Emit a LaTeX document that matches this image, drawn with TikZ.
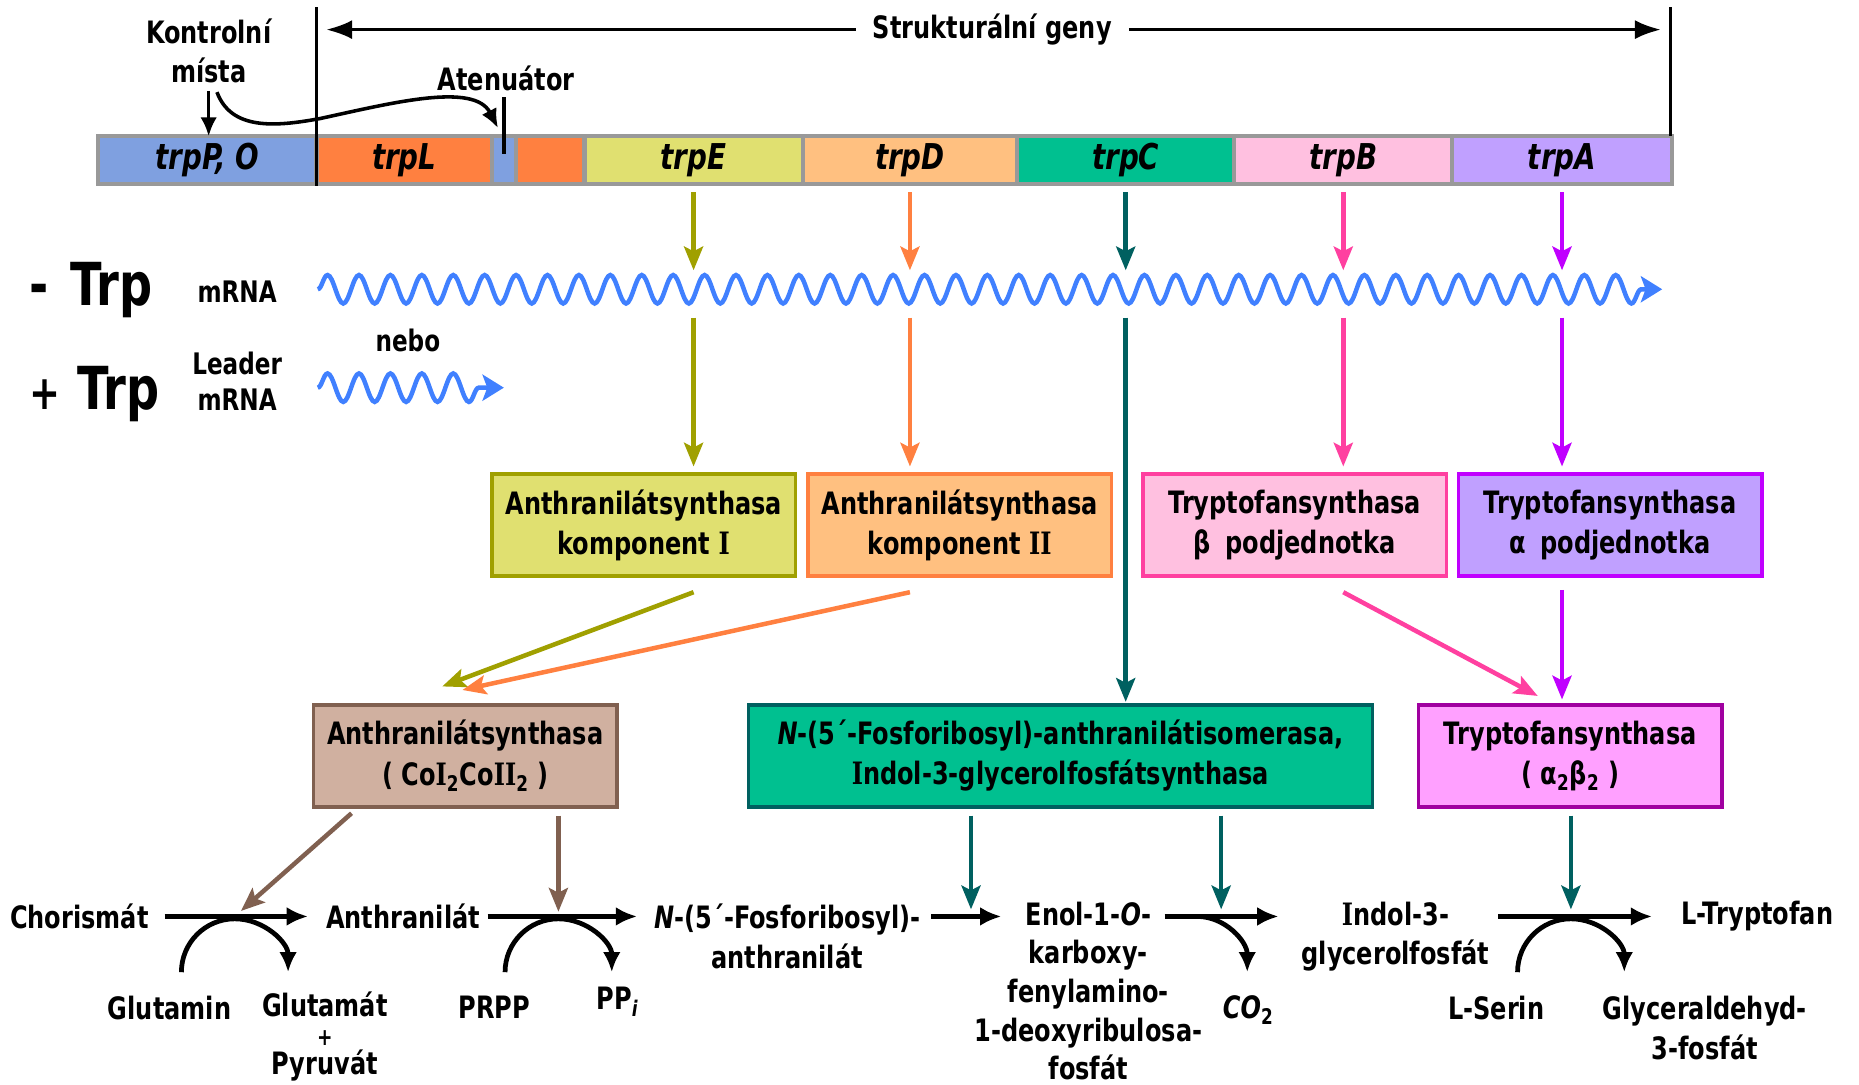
\documentclass[tikz,border=0pt]{standalone}
\usepackage{fontspec}
\setmainfont{DejaVu Sans}[FakeStretch=0.78]
\newfontfamily\serI{DejaVu Serif}[FakeStretch=0.78]
\newcommand{\sI}{{\serI I}}
\usetikzlibrary{arrows.meta,positioning,decorations.pathmorphing,calc}

\definecolor{cP}{HTML}{7FA0E0}
\definecolor{cL}{HTML}{FF8040}
\definecolor{cE}{HTML}{E0E070}
\definecolor{cD}{HTML}{FFC080}
\definecolor{cC}{HTML}{00C090}
\definecolor{cB}{HTML}{FFC0E0}
\definecolor{cA}{HTML}{C0A0FF}
\definecolor{aE}{HTML}{A0A000}
\definecolor{aD}{HTML}{FF8040}
\definecolor{aC}{HTML}{006060}
\definecolor{aB}{HTML}{FF40A0}
\definecolor{aA}{HTML}{C000FF}
\definecolor{cAS}{HTML}{D0B0A0}
\definecolor{aAS}{HTML}{806050}
\definecolor{cTS}{HTML}{FFA0FF}
\definecolor{aTS}{HTML}{A000A0}
\definecolor{rna}{HTML}{4080FF}

\tikzset{
  seg/.style={draw=gray!80, line width=1.75pt, outer sep=0pt, inner sep=0pt, minimum height=20pt, font=\fontsize{15}{17}\selectfont\bfseries\itshape},
  enzbox/.style={draw, line width=1.5pt, align=center, inner sep=2pt, minimum width=128pt, minimum height=43pt, font=\fontsize{13}{17}\selectfont\bfseries},
  lbl/.style={align=center, inner sep=1pt, font=\fontsize{13}{16.75}\selectfont\bfseries},
  small/.style={align=center, inner sep=1pt, font=\fontsize{12.5}{15.5}\selectfont\bfseries},
  big/.style={inner sep=0pt, font=\fontsize{25}{28}\selectfont\bfseries},
  rx/.style={line width=2pt, -{Latex[length=9pt,width=8pt]}},
  cof/.style={line width=2pt, -{Latex[length=8.5pt,width=7.5pt]}},
  enz/.style={line width=1.9pt, -{Stealth[length=10pt,width=8pt,inset=2pt]}},
  rnawave/.style={rna, line width=1.9pt, decorate, decoration={snake, segment length=13.25pt, amplitude=6pt, post length=6pt}, -{Stealth[length=9pt,width=11pt,inset=2pt]}},
}

\begin{document}
\begin{tikzpicture}[x=0.5pt, y=0.5pt]
    \useasboundingbox (0,0) rectangle (1568,915);

    % gene map
    \node[seg, fill=cP, minimum width=92pt] (pO) at (175,780) {trpP, O};
    \node[seg, fill=cL, minimum width=74pt, right=0pt of pO] (trpL) {trpL};
    \node[seg, fill=cP, minimum width=10pt, right=0pt of trpL] (att) {};
    \node[seg, fill=cL, minimum width=29pt, right=0pt of att] (ldr) {};
    \node[seg, fill=cE, minimum width=92pt, right=0pt of ldr] (trpE) {trpE};
    \node[seg, fill=cD, minimum width=90.5pt, right=0pt of trpE] (trpD) {trpD};
    \node[seg, fill=cC, minimum width=91.5pt, right=0pt of trpD] (trpC) {trpC};
    \node[seg, fill=cB, minimum width=92pt, right=0pt of trpC] (trpB) {trpB};
    \node[seg, fill=cA, minimum width=92.5pt, right=0pt of trpB] (trpA) {trpA};

    \coordinate (vlT) at (267,909);
    \coordinate (vrT) at (1409,909);
    \draw [black, line width=1.5pt] (vlT) to ([yshift=-0.9pt]pO.south east);
    \draw [black, line width=1.5pt] (vrT) to (vrT |- trpA.north);

    \node[lbl] (sg) at (837,890) {Strukturální geny};
    \draw [black, line width=1.5pt, -{Latex[length=11pt,width=8pt]}, shorten <=6pt, shorten >=4pt] (sg.west) to (sg.west -| vlT);
    \draw [black, line width=1.5pt, -{Latex[length=11pt,width=8pt]}, shorten <=6pt, shorten >=4pt] (sg.east) to (sg.east -| vrT);

    \node[lbl] (km) at (176,872) {Kontrolní\\místa};
    \draw [black, line width=1.5pt, -{Latex[length=8pt,width=7pt]}, shorten <=2pt] (km.south) to (km.south |- pO.north);

    \coordinate (atT) at (425,833);
    \coordinate (atB) at (425,785);
    \draw [black, line width=2pt] (atT) to (atB);
    \node[lbl] (atn) at (427,849) {Atenuátor};
    \draw [black, line width=1.5pt, -{Latex[length=8pt,width=7pt]}] ([xshift=3.5pt,yshift=-2.5pt]km.south) .. controls (195,805) and (232,808) .. (270,815) .. controls (330,828) and (400,846) .. ($(atT)+(-5,-26)$);

    % transcripts
    \coordinate (w1s) at (268,671);
    \coordinate (w1e) at (1402,671);
    \coordinate (w2s) at (268,588);
    \coordinate (w2e) at (425,588);
    \draw [rnawave] (w1s) to (w1e);
    \draw [rnawave] (w2s) to (w2e);

    \node[big] (minus) at (77,670) {-\hspace{9pt}Trp};
    \node[big] (plus) at (80,583) {{\fontsize{20}{20}\selectfont +}\hspace{7pt}Trp};
    \node[small] (m1) at (200,669) {mRNA};
    \node[small] (ld) at (200,593.5) {Leader\\mRNA};
    \node[small] (nb) at (344,628) {nebo};

    \coordinate (wtop) at (0,687);
    \coordinate (wbot) at (0,647);
    \draw [enz, aE, shorten <=3.5pt] (trpE.south) to (trpE.south |- wtop);
    \draw [enz, aD, shorten <=3.5pt] (trpD.south) to (trpD.south |- wtop);
    \draw [enz, aC, shorten <=3.5pt] (trpC.south) to (trpC.south |- wtop);
    \draw [enz, aB, shorten <=3.5pt] (trpB.south) to (trpB.south |- wtop);
    \draw [enz, aA, shorten <=3.5pt] (trpA.south) to (trpA.south |- wtop);

    % enzymes
    \node[enzbox, fill=cE, draw=aE] (asI) at (543,472) {Anthranilátsynthasa\\komponent \sI};
    \node[enzbox, fill=cD, draw=aD] (asII) at (809.5,472) {Anthranilátsynthasa\\komponent \sI\sI};
    \node[enzbox, fill=cB, draw=aB] (tsB) at (1092,472) {Tryptofansynthasa\\β\hspace{6pt}podjednotka};
    \node[enzbox, fill=cA, draw=aA] (tsA) at (1358,472) {Tryptofansynthasa\\α\hspace{6pt}podjednotka};

    \node[enzbox, fill=cAS, draw=aAS] (asC) at (392.5,277.5) {Anthranilátsynthasa\\( Co\sI\textsubscript{2}Co\sI\sI\textsubscript{2} )};
    \node[enzbox, fill=cC, draw=aC, minimum width=263pt] (pai) at (894.5,277.5) {{\itshape N}-(5´-Fosforibosyl)-anthranilátisomerasa,\\\sI ndol-3-glycerolfosfátsynthasa};
    \node[enzbox, fill=cTS, draw=aTS] (tsAB) at (1324.5,277.5) {Tryptofansynthasa\\( α\textsubscript{2}β\textsubscript{2} )};

    \draw [enz, aE, shorten >=2.5pt] (trpE |- wbot) to (trpE |- asI.north);
    \draw [enz, aD, shorten >=2.5pt] (trpD |- wbot) to (trpD |- asII.north);
    \draw [enz, aC, shorten >=0.5pt] (trpC |- wbot) to (trpC |- pai.north);
    \draw [enz, aB, shorten >=2.5pt] (trpB |- wbot) to (trpB |- tsB.north);
    \draw [enz, aA, shorten >=2.5pt] (trpA |- wbot) to (trpA |- tsA.north);

    \draw [enz, aE] ([yshift=-6pt]asI.south -| trpE) to ([xshift=-9.75pt,yshift=7pt]asC.north);
    \draw [enz, aD] ([yshift=-6pt]asII.south -| trpD) to ([xshift=-1.25pt,yshift=5.5pt]asC.north);
    \draw [enz, aB] ([yshift=-6pt]tsB.south -| trpB) to ([xshift=-13.75pt,yshift=3pt]tsAB.north);
    \draw [enz, aA, shorten <=5pt, shorten >=1.5pt] (tsA.south -| trpA) to (tsAB.north -| trpA);

    % pathway
    \coordinate (ax) at (0,142);
    \coordinate (r1) at (198,142);
    \coordinate (r2) at (471,142);
    \coordinate (r3) at (819,142);
    \coordinate (r4) at (1030,142);
    \coordinate (r5) at (1325,142);

    \node[lbl] (chor) at (67,142) {Chorismát};
    \node[lbl] (anth) at (340,142) {Anthranilát};
    \node[lbl] (pra) at (664,125) {{\itshape N}-(5´-Fosforibosyl)-\\anthranilát};
    \node[lbl, font=\fontsize{13}{16.3}\selectfont\bfseries] (cdrp) at (918,79) {Enol-1-{\itshape O}-\\karboxy-\\fenylamino-\\1-deoxyribulosa-\\fosfát};
    \node[lbl] (igp) at (1177,125) {\sI ndol-3-\\glycerolfosfát};
    \node[lbl] (ltrp) at (1482,142) {L-Tryptofan};

    \draw [rx, shorten <=5.5pt, shorten >=6.5pt] (chor.east |- ax) to (anth.west |- ax);
    \draw [rx, shorten <=2pt, shorten >=6pt] (anth.east |- ax) to (pra.west |- ax);
    \draw [rx, shorten <=3.5pt] (pra.east |- ax) to ($(cdrp.west |- ax)+(25,0)$);
    \draw [rx, shorten >=8.5pt] ($(cdrp.east |- ax)+(-34,0)$) to (igp.west |- ax);
    \draw [rx, shorten <=2.5pt, shorten >=11pt] (igp.east |- ax) to (ltrp.west |- ax);

    \draw [enz, aAS, shorten <=3pt, shorten >=3.5pt] ([xshift=-45.75pt]asC.south) to (r1);
    \draw [enz, aAS, shorten <=3pt, shorten >=2pt] (asC.south -| r2) to (r2);
    \draw [enz, aC, shorten <=3pt, shorten >=3pt] (pai.south -| r3) to (r3);
    \draw [enz, aC, shorten <=3pt, shorten >=3pt] (pai.south -| r4) to (r4);
    \draw [enz, aC, shorten <=3pt, shorten >=3pt] (tsAB.south -| r5) to (r5);

    \draw [cof] ($(r1)+(-45,-47)$) arc [start angle=180, end angle=0, x radius=22.5pt, y radius=22.5pt];
    \draw [cof] ($(r2)+(-45,-47)$) arc [start angle=180, end angle=0, x radius=22.5pt, y radius=22.5pt];
    \draw [cof] ($(r4)+(-20,0)$) arc [start angle=90, end angle=0, x radius=21pt, y radius=23.5pt];
    \draw [cof] ($(r5)+(-45,-47)$) arc [start angle=180, end angle=0, x radius=22.5pt, y radius=22.5pt];

    \node[lbl] (gln) at (143,65) {Glutamin};
    \node[lbl, font=\fontsize{13}{12.25}\selectfont\bfseries] (glu) at (274,41) {Glutamát\\{\fontsize{10}{10}\selectfont +}\\Pyruvát};
    \node[lbl] (prpp) at (417,65) {PRPP};
    \node[lbl] (ppi) at (521,70) {PP\textsubscript{\itshape i}};
    \node[lbl] (co2) at (1053,63) {{\itshape CO}\textsubscript{2}};
    \node[lbl] (ser) at (1262,65) {L-Serin};
    \node[lbl] (g3p) at (1438,48) {Glyceraldehyd-\\3-fosfát};
\end{tikzpicture}
\end{document}
